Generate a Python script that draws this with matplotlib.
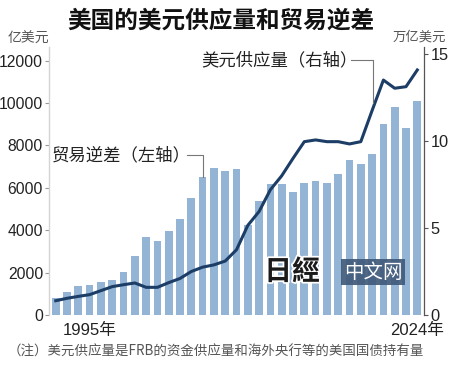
import matplotlib
matplotlib.use("Agg")
import matplotlib.pyplot as plt
import matplotlib.patheffects as pe
from matplotlib import font_manager
import numpy as np

plt.rcParams['font.family'] = ['Noto Sans CJK SC', 'DejaVu Sans']

names = {f.name for f in font_manager.fontManager.ttflist}
NUMF = 'Liberation Sans Narrow' if 'Liberation Sans Narrow' in names else 'Liberation Sans'
NUM = [NUMF, 'Noto Sans CJK SC']

years = list(range(1992, 2025))
trade_deficit = [800, 1085, 1352, 1431, 1572, 1635, 2044, 2783, 3695, 3506,
                 3940, 4505, 5519, 6494, 6950, 6808, 6903, 4230, 5377, 6164,
                 6164, 5818, 6226, 6321, 6226, 6635, 7311, 7123, 7594, 8994,
                 9811, 8836, 10094]
dollar_supply = [0.82, 0.96, 1.07, 1.17, 1.40, 1.63, 1.74, 1.84, 1.59, 1.59,
                 1.86, 2.10, 2.50, 2.75, 2.88, 3.10, 3.75, 5.15, 5.95, 7.20,
                 8.00, 9.00, 9.96, 10.06, 9.96, 9.96, 9.83, 9.96, 11.75, 13.50,
                 13.03, 13.12, 14.08]
left_ticks = [0, 2000, 4000, 6000, 8000, 10000, 12000]
right_ticks = [0, 5, 10, 15]
x_labels = {1995: '1995年', 2024: '2024年'}

title = '美国的美元供应量和贸易逆差'
left_unit = '亿美元'
right_unit = '万亿美元'
bar_label = '贸易逆差（左轴）'
line_label = '美元供应量（右轴）'
note = '（注）美元供应量是FRB的资金供应量和海外央行等的美国国债持有量'

BAR = '#93b4d4'
LINE = '#1c3d66'
W, H = 450, 365

fig = plt.figure(figsize=(W / 100, H / 100), dpi=100)
ax = fig.add_axes([49.3 / W, 50 / H, 375 / W, 268 / H])
x = np.arange(len(years))
ax.bar(x, trade_deficit, width=0.68, color=BAR, zorder=2)
ax.set_xlim(-0.57, len(years) - 1 + 0.62)
ax.set_ylim(0, 12640)
ax.set_yticks(left_ticks)
ax.set_yticklabels([str(v) for v in left_ticks])
xt = [years.index(y) for y in x_labels]
ax.set_xticks(xt)
ax.set_xticklabels(list(x_labels.values()))
ax.tick_params(axis='x', length=0, pad=5.5, labelsize=12, labelcolor='#222', labelfontfamily=NUM)
ax.tick_params(axis='y', length=3, width=0.8, color='#999', pad=1.5, labelsize=11.3,
               labelcolor='#222', labelfontfamily=NUM)
for s in ['top', 'right', 'bottom']:
    ax.spines[s].set_visible(False)
ax.spines['left'].set_color('#d4d4d4')
ax.spines['left'].set_linewidth(1.0)

ax2 = ax.twinx()
ax2.plot(x, dollar_supply, color=LINE, lw=2.2, zorder=3, solid_joinstyle='round')
ax2.set_ylim(0, 15.4)
ax2.set_yticks(right_ticks)
ax2.set_yticklabels([str(v) for v in right_ticks])
ax2.tick_params(axis='y', length=3, width=0.8, color='#555', pad=1.5, labelsize=11.8,
                labelcolor='#222', labelfontfamily=NUM)
for s in ['top', 'left', 'bottom']:
    ax2.spines[s].set_visible(False)
ax2.spines['right'].set_color('#555')
ax2.spines['right'].set_linewidth(0.9)

# annotations
i05 = years.index(2005)
ax.text(-0.35, 7547, bar_label, ha='left', va='center', fontsize=12.5, color='#222',
        fontweight='light')
ax.plot([11.6, i05 + 0.06, i05 + 0.06], [7547, 7547, trade_deficit[i05] + 30],
        color='#777', lw=0.8, zorder=4)
i20 = years.index(2020)
ax2.text(26.7, 14.66, line_label, ha='right', va='center', fontsize=12.5, color='#222',
         fontweight='light')
ax2.plot([26.15, i20 + 0.1, i20 + 0.1], [14.66, 14.66, 12.2], color='#777', lw=0.8, zorder=4)

# titles / units / note
fig.text(221 / W, 1 - 21 / H, title, ha='center', va='center', fontsize=17,
         fontweight='bold', color='#111')
fig.text(8 / W, 1 - 39 / H, left_unit, ha='left', va='center', fontsize=10, color='#555',
         fontweight='light')
fig.text(446 / W, 1 - 37 / H, right_unit, ha='right', va='center', fontsize=9.6, color='#555',
         fontweight='light')
fig.text(8 / W, 1 - 352 / H, note, ha='left', va='center', fontsize=9.7, color='#555',
         family=['Noto Sans CJK SC', 'DejaVu Sans'], fontweight='light')

# watermark
fig.text(292 / W, 1 - 272 / H, '日經', ha='center', va='center', fontsize=20,
         fontweight='bold', color='#1a1a1a', family=['Noto Sans CJK TC', 'Noto Sans CJK SC'],
         path_effects=[pe.withStroke(linewidth=2.5, foreground='white')], zorder=10)
fig.text(373 / W, 1 - 272 / H, '中文网', ha='center', va='center', fontsize=14,
         color='white', zorder=10, fontweight='light',
         bbox=dict(boxstyle='square,pad=0.12', facecolor='#3e5878', edgecolor='none', alpha=0.9))

fig.savefig('out.png', dpi=100)
